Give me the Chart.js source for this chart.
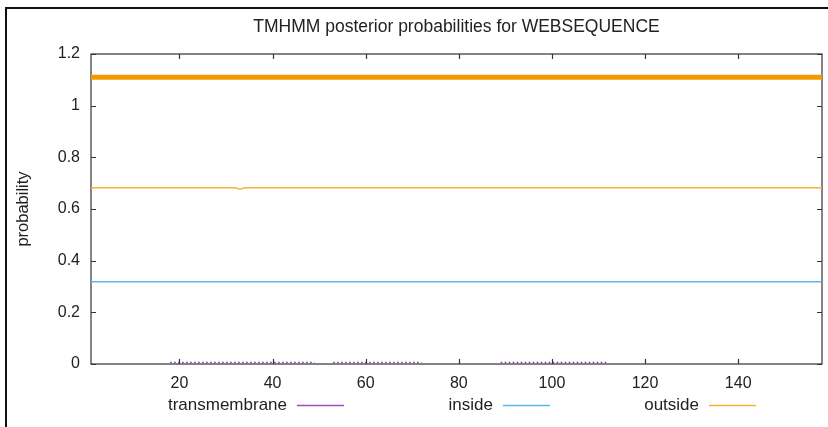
<!DOCTYPE html>
<html>
<head>
<meta charset="utf-8">
<script src="https://cdn.jsdelivr.net/npm/chart.js@4.4.1/dist/chart.umd.min.js"></script>
<style>
  html, body { margin: 0; padding: 0; background: #fff; }
  #wrap { width: 828px; height: 427px; }
</style>
</head>
<body>
<div id="wrap"><canvas id="myChart" width="828" height="427"></canvas></div>
<script>
// values (sequence positions 1..158)
const chartTitle = "TMHMM posterior probabilities for WEBSEQUENCE";
const yTitle = "probability";
const xTicks = [20, 40, 60, 80, 100, 120, 140];
const yTicks = [0, 0.2, 0.4, 0.6, 0.8, 1, 1.2];
const seqStart = 1;
const seqEnd = 158;

// thin posterior lines
const tmX = [18, 49, 50, 53, 72, 80, 89, 112];
const tmP = [0.006, 0.006, null, 0.006, 0.006, null, 0.006, 0.006];
const insideX = [1, 158];
const insideP = [0.318, 0.318];
const outsideX = [1, 32, 33, 34, 158];
const outsideP = [0.682, 0.682, 0.677, 0.682, 0.682];

// thick predicted topology bar (whole sequence is outside)
const topoX = [1, 158];
const topoY = [1.11, 1.11];

const legendNames = ["transmembrane", "inside", "outside"];

const FONT = "'Liberation Sans', Arial, sans-serif";
const INK = "#222";

function pts(xs, ys) {
  return xs.map((x, i) => ({ x: x, y: ys[i] }));
}

// gnuplot style frame, inward ticks on all four sides
const framePlugin = {
  id: "frame",
  beforeDraw(chart) {
    const ctx = chart.ctx;
    ctx.save();
    ctx.fillStyle = "#fff";
    ctx.fillRect(0, 0, chart.width, chart.height);
    // outer picture border (top + left)
    ctx.strokeStyle = "#111";
    ctx.lineWidth = 2;
    ctx.beginPath();
    ctx.moveTo(6, chart.height);
    ctx.lineTo(6, 8);
    ctx.lineTo(chart.width, 8);
    ctx.stroke();
    ctx.restore();
  },
  beforeDatasetsDraw(chart) {
    const ctx = chart.ctx;
    const a = chart.chartArea;
    const xs = chart.scales.x;
    const ys = chart.scales.y;
    ctx.save();
    ctx.strokeStyle = "#333";
    ctx.lineWidth = 1.2;
    ctx.strokeRect(a.left, a.top, a.right - a.left, a.bottom - a.top);
    ctx.beginPath();
    xTicks.forEach(v => {
      const px = Math.round(xs.getPixelForValue(v)) + 0.5;
      ctx.moveTo(px, a.bottom); ctx.lineTo(px, a.bottom - 5);
      ctx.moveTo(px, a.top); ctx.lineTo(px, a.top + 5);
    });
    yTicks.forEach(v => {
      const py = Math.round(ys.getPixelForValue(v)) + 0.5;
      ctx.moveTo(a.left, py); ctx.lineTo(a.left + 5, py);
      ctx.moveTo(a.right, py); ctx.lineTo(a.right - 5, py);
    });
    ctx.stroke();
    ctx.restore();
  },
  afterDraw(chart) {
    const ctx = chart.ctx;
    const a = chart.chartArea;
    ctx.save();
    ctx.fillStyle = INK;
    // title
    ctx.font = "17.5px " + FONT;
    ctx.textAlign = "center";
    ctx.textBaseline = "middle";
    ctx.fillText(chartTitle, (a.left + a.right) / 2, 27);
    // y title
    ctx.font = "16.5px " + FONT;
    ctx.translate(23, (a.top + a.bottom) / 2);
    ctx.rotate(-Math.PI / 2);
    ctx.fillText(yTitle, 0, 0);
    ctx.restore();

    // key: text then a line sample, three columns
    ctx.save();
    ctx.font = "17px " + FONT;
    ctx.textAlign = "right";
    ctx.textBaseline = "middle";
    const lineEnds = [344, 550, 756];
    legendNames.forEach((name, i) => {
      const ds = chart.data.datasets.find(d => d.label === name && !d.topology);
      const x1 = lineEnds[i];
      const x0 = x1 - 47;
      const y = 405;
      ctx.fillStyle = INK;
      ctx.fillText(name, x0 - 10, y);
      ctx.strokeStyle = ds.legendColor || ds.borderColor;
      ctx.lineWidth = 1.5;
      ctx.beginPath();
      ctx.moveTo(x0, y + 0.5);
      ctx.lineTo(x1, y + 0.5);
      ctx.stroke();
    });
    ctx.restore();
  }
};

function initChart(target) {
  const data = {
    datasets: [
      {
        label: "outside",
        topology: true,
        data: pts(topoX, topoY),
        borderColor: "#f29a00",
        borderWidth: 5,
      },
      {
        label: "outside",
        data: pts(outsideX, outsideP),
        borderColor: "#f7b432",
        borderWidth: 1.5,
      },
      {
        label: "inside",
        data: pts(insideX, insideP),
        borderColor: "#5ab8ec",
        borderWidth: 1.5,
      },
      {
        label: "transmembrane",
        data: pts(tmX, tmP),
        borderColor: "#8a2aa6",
        legendColor: "#a24cbc",
        borderWidth: 1.6,
        borderDash: [1.5, 2.5],
        spanGaps: false,
      },
    ],
  };

  const config = {
    type: "line",
    data: data,
    options: {
      responsive: false,
      animation: false,
      devicePixelRatio: 1,
      layout: { padding: { left: 0, right: 6, top: 54, bottom: 0 } },
      elements: { point: { radius: 0 }, line: { tension: 0 } },
      plugins: {
        legend: { display: false },
        title: { display: false },
        tooltip: { enabled: false },
      },
      scales: {
        x: {
          type: "linear",
          min: seqStart,
          max: seqEnd,
          afterBuildTicks: s => { s.ticks = xTicks.map(v => ({ value: v })); },
          afterFit: s => { s.height = 63; },
          grid: { display: false, drawTicks: false },
          border: { display: false },
          ticks: {
            padding: 10,
            color: INK,
            font: { family: FONT, size: 16 },
            callback: v => String(v),
          },
        },
        y: {
          min: 0,
          max: 1.2,
          afterBuildTicks: s => { s.ticks = yTicks.map(v => ({ value: v })); },
          afterFit: s => { s.width = 91; },
          grid: { display: false, drawTicks: false },
          border: { display: false },
          ticks: {
            padding: 11,
            color: INK,
            font: { family: FONT, size: 16 },
            callback: v => String(v),
          },
        },
      },
    },
    plugins: [framePlugin],
  };

  return new Chart(target, config);
}

document.addEventListener("DOMContentLoaded", () => {
  initChart(document.querySelector("#myChart"));
});
</script>
</body>
</html>
